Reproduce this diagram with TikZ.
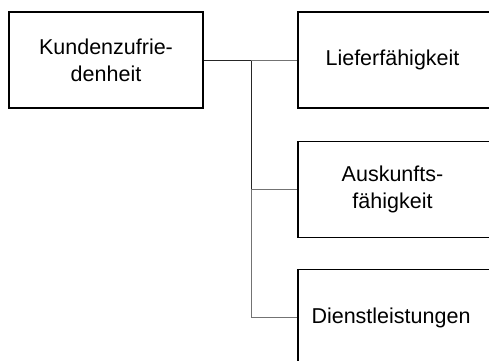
\documentclass[tikz,border=0pt]{standalone}
\usepackage{fontspec}
\setmainfont{Liberation Sans}
\begin{document}
\begin{tikzpicture}[x=1pt,y=-1pt,
  box/.style={draw=black,line width=1.3pt,minimum width=194pt,minimum height=96pt,inner sep=0pt,align=center,font=\fontsize{21.5}{27}\selectfont},
  darkline/.style={draw=black!85,line width=1pt},
  greyline/.style={draw=black!55,line width=1pt}]
\useasboundingbox (0,0) rectangle (489,360);
\clip (0,0) rectangle (489,360);
\node[box] (kz) at (106,60) {Kundenzufrie-\\denheit};
\node[box] (lf) at (395,60) {\hspace*{-5pt}Lieferfähigkeit};
\node[box] (af) at (395,189.5) {\hspace*{-5pt}Auskunfts-\\\hspace*{-5pt}fähigkeit};
\node[box] (dl) at (395,317.5) {\hspace*{-8pt}Dienstleistungen};
\coordinate (t1) at (251,60);
\coordinate (t2) at (251,189);
\coordinate (t3) at (251,317);
\draw[darkline] (kz.east) -- (t1);
\draw[darkline] (t1) -- (t2);
\draw[greyline] (t2) -- (t3);
\draw[greyline] (t1) -- (lf.west);
\draw[greyline] (t2) -- (af.west |- t2);
\draw[greyline] (t3) -- (dl.west |- t3);
\end{tikzpicture}
\end{document}
